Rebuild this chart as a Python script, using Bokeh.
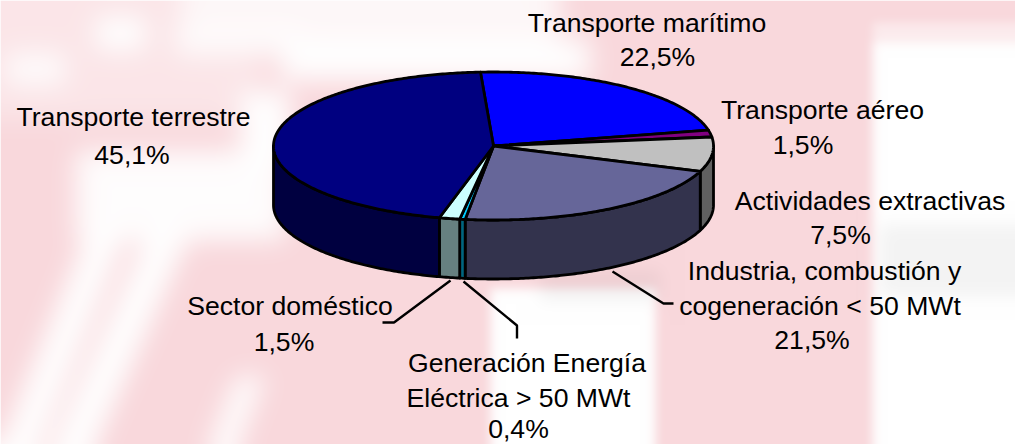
import numpy as np
from bokeh.embed import file_html
from bokeh.resources import INLINE
from bokeh.plotting import figure
from bokeh.models import Range1d
from bokeh.core.properties import value

# ---- data ----
categories = ["Transporte marítimo", "Transporte aéreo", "Actividades extractivas",
              "Industria, combustión y cogeneración < 50 MWt",
              "Generación Energía Eléctrica > 50 MWt", "Sector doméstico", "Transporte terrestre"]
shares = [22.5, 1.5, 7.5, 21.5, 0.4, 1.5, 45.1]
top_colors = ["#0000FF", "#800080", "#C0C0C0", "#666699", "#00CCFF", "#CCFFFF", "#000080"]
side_colors = ["#000080", "#400040", "#606060", "#33334D", "#006680", "#668080", "#000040"]

# ---- layout (page pixels of the reference) ----
W, H, M = 1015, 444, 0
CX, CY, RX, RY, DEPTH = 493, 145.5, 220, 74, 59
START_DEG = -3.4
FONT = value("Liberation Sans")
FONT_SIZE = "26.6px"
label_lines = [
    (646.5, 22, categories[0]), (657, 56, None, 0),
    (133, 116, categories[6]), (131.5, 154, None, 6),
    (822, 109.5, categories[1]), (802.5, 144.5, None, 1),
    (869.5, 200.5, categories[2]), (840, 234, None, 2),
    (824, 270.5, "Industria, combustión y"), (819.5, 305, "cogeneración < 50 MWt"), (811.5, 339.5, None, 3),
    (289.5, 305.5, categories[5]), (283.5, 341.5, None, 5),
    (526.5, 362, "Generación Energía"), (518, 397, "Eléctrica > 50 MWt"), (518, 428.5, None, 4),
]
leaders = [
    ([612, 663, 673], [271, 303, 303]),
    ([450, 393.5, 382], [280, 322, 322]),
    ([463, 516.5, 516.5], [281, 325, 338]),
]


def background():
    """Soft pink and white wash behind the chart."""
    xs, ys = np.meshgrid(np.arange(W) + M + 0.5, np.arange(H) + M + 0.5)
    soft = np.zeros((H, W))
    sharp = np.zeros((H, W))
    g = np.ones((H, W))

    def box(w, x0, x1, y0, y1, s):
        m = (xs >= x0) & (xs < x1) & (ys >= y0) & (ys < y1)
        w[m] = np.maximum(w[m], s)

    def slant(w, x_at, slope, y_at, half, y0, y1, s):
        m = (np.abs(xs - (x_at + slope * (y_at - ys))) < half) & (ys >= y0) & (ys < y1)
        w[m] = np.maximum(w[m], s)

    box(sharp, 872, 1100, 42, 500, 1.0)
    box(sharp, 872, 1100, 22, 42, 0.5)
    box(sharp, 490, 655, 288, 500, 1.0)

    box(soft, 180, 560, -40, 38, 0.8)
    box(soft, 280, 590, 38, 80, 1.0)
    box(soft, -40, 260, -40, 120, 0.35)
    box(soft, 95, 145, 16, 50, 1.0)
    box(soft, 5, 65, 52, 85, 0.9)
    box(soft, 175, 300, 22, 55, 0.9)
    box(soft, 75, 285, 150, 240, 0.95)
    box(soft, 240, 290, 90, 165, 1.0)
    slant(soft, 33, 0.41, 412, 20, 230, 520, 1.0)
    slant(soft, 80, 0.45, 429, 22, 230, 520, 1.0)
    slant(soft, 227, 0.4, 435, 15, 375, 520, 0.95)

    g[(ys > 270) & (ys < 300) & (xs > 540) & (xs < 660)] = 0.955
    g[(ys > 225) & (ys < 295) & (xs > 880)] = 0.955

    def blur(a, sigma):
        r0 = int(3 * sigma)
        k = np.exp(-0.5 * (np.arange(-r0, r0 + 1) / sigma) ** 2)
        k /= k.sum()
        pad = r0 + 2
        b = np.pad(a, pad, mode="edge")
        b = np.apply_along_axis(lambda r: np.convolve(r, k, mode="same"), 0, b)
        b = np.apply_along_axis(lambda r: np.convolve(r, k, mode="same"), 1, b)
        return b[pad:-pad, pad:-pad]

    w = np.maximum(blur(soft, 13.0), blur(sharp, 5.0))
    g = blur(g, 8.0)
    pink = np.array([249, 216, 220.0])
    img = np.zeros((H, W), dtype=np.uint32)
    view = img.view(dtype=np.uint8).reshape((H, W, 4))
    for c in range(3):
        view[:, :, c] = np.clip((pink[c] * (1 - w) + 255 * w) * g, 0, 255).astype(np.uint8)
    view[:, :, 3] = 255
    return img[::-1].copy()


def arc(t0, t1, dy=0.0):
    n = max(2, int(abs(t1 - t0) * 1.5) + 2)
    t = np.radians(np.linspace(t0, t1, n))
    return CX + RX * np.sin(t), CY - RY * np.cos(t) + dy


p = figure(width=W, height=H, output_backend="svg", toolbar_location=None,
           x_range=Range1d(M, M + W), y_range=Range1d(M + H, M), min_border=0)
p.extra_y_ranges = {"bg": Range1d(0, H)}
p.axis.visible = False
p.grid.visible = False
p.outline_line_color = None
p.background_fill_color = "white"
p.border_fill_color = "white"

p.image_rgba(image=[background()], x=[M], y=[0], dw=[W], dh=[H], y_range_name="bg")

edges = START_DEG + np.concatenate([[0], np.cumsum(shares)]) * 3.6

side_x, side_y, side_c = [], [], []
for i in range(len(shares)):
    a, b = max(edges[i], 90), min(edges[i + 1], 270)
    if b <= a:
        continue
    x0, y0 = arc(a, b)
    x1, y1 = arc(b, a, DEPTH)
    side_x.append(np.concatenate([x0, x1]))
    side_y.append(np.concatenate([y0, y1]))
    side_c.append(side_colors[i])
p.patches(side_x, side_y, fill_color=side_c, line_color="black", line_width=2.8, line_join="round")

top_x, top_y = [], []
for i in range(len(shares)):
    x0, y0 = arc(edges[i], edges[i + 1])
    top_x.append(np.concatenate([[CX], x0]))
    top_y.append(np.concatenate([[CY], y0]))
p.patches(top_x, top_y, fill_color=top_colors, line_color="black", line_width=2.8, line_join="round")

p.multi_line([l[0] for l in leaders], [l[1] for l in leaders], line_color="black", line_width=2.4)

lx, ly, lt = [], [], []
for item in label_lines:
    lx.append(item[0])
    ly.append(item[1])
    if item[2] is None:
        lt.append(f"{shares[item[3]]:.1f}".replace(".", ",") + "%")
    else:
        lt.append(item[2])
p.text(lx, ly, text=lt, text_font=FONT, text_font_size=FONT_SIZE, text_color="black",
       text_align="center", text_baseline="middle")

open("out.html", "w").write(file_html(p, INLINE))
